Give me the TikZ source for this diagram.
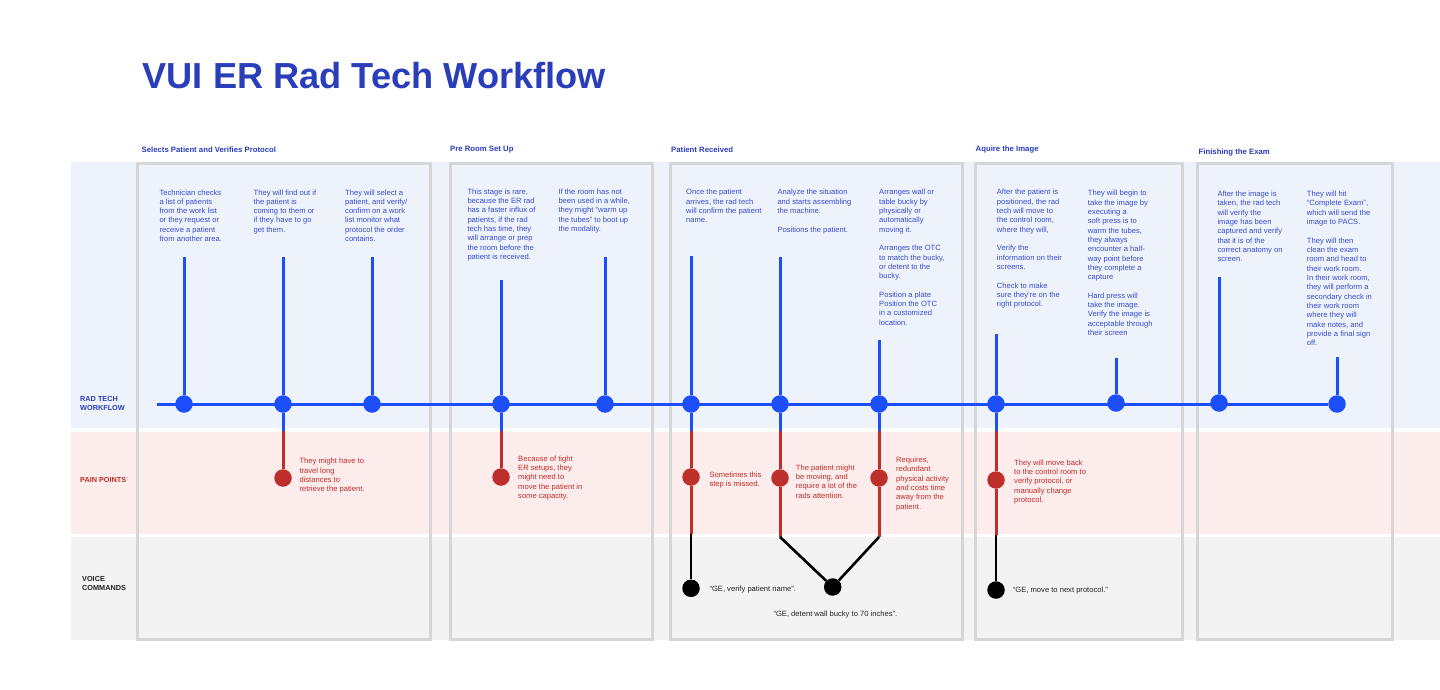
\documentclass[tikz,border=0pt]{standalone}
\usepackage{fontspec}
\setmainfont{Liberation Sans}
\pgfdeclarelayer{back}
\pgfdeclarelayer{wires}
\pgfsetlayers{back,wires,main}

\definecolor{headblue}{RGB}{42,62,186}
\definecolor{txtblue}{RGB}{55,75,205}
\definecolor{flowblue}{RGB}{28,78,252}
\definecolor{painred}{RGB}{190,46,42}
\definecolor{bandblue}{RGB}{238,243,251}
\definecolor{bandpink}{RGB}{252,236,236}
\definecolor{bandgray}{RGB}{243,243,243}
\definecolor{framegray}{RGB}{214,214,214}
\definecolor{voiceink}{RGB}{35,35,35}

\tikzset{
  bdot/.style={circle, fill=flowblue, minimum size=17.5pt, inner sep=0},
  rdot/.style={circle, fill=painred, minimum size=17.5pt, inner sep=0},
  kdot/.style={circle, fill=black, minimum size=17.5pt, inner sep=0},
  bwire/.style={draw=flowblue, line width=3pt},
  rwire/.style={draw=painred, line width=3pt},
  kwire/.style={draw=black, line width=2.6pt},
  note/.style={anchor=north west, inner sep=0, align=left,
    font=\fontsize{7.6}{9.33}\selectfont, text=txtblue},
  painnote/.style={note, text=painred},
  voicenote/.style={anchor=west, inner sep=0,
    font=\fontsize{7.6}{9.33}\selectfont, text=voiceink},
  stagehead/.style={anchor=west, inner sep=0,
    font=\bfseries\fontsize{7.75}{9}\selectfont, text=headblue},
  rowlabel/.style={anchor=north west, inner sep=0, align=left,
    font=\bfseries\fontsize{7.3}{9}\selectfont},
  stagebox/.style={draw=framegray, line width=3pt},
}

\begin{document}
\begin{tikzpicture}[x=1pt,y=-1pt]
\useasboundingbox (0,0) rectangle (1440,690);

% ---------- background bands and stage frames ----------
\begin{pgfonlayer}{back}
  \fill[white] (0,0) rectangle (1440,690);
  \fill[bandblue] (71,162) rectangle (1440,428);
  \fill[bandpink] (71,432) rectangle (1440,534);
  \fill[bandgray] (71,537) rectangle (1440,640);
  \draw[stagebox] (137,163.5) rectangle (430,639);
  \draw[stagebox] (450,163.5) rectangle (652,639);
  \draw[stagebox] (670,163.5) rectangle (962,639);
  \draw[stagebox] (975,163.5) rectangle (1182,639);
  \draw[stagebox] (1197,163.5) rectangle (1392,639);
\end{pgfonlayer}

% ---------- title and headings ----------
\node[anchor=base west, inner sep=0, font=\bfseries\fontsize{36.2}{40}\selectfont, text=headblue]
  (title) at (142.5,88.3) {VUI ER Rad Tech Workflow};

\node[stagehead] (h1) at (141.5,150) {Selects Patient and Verifies Protocol};
\node[stagehead] (h2) at (450,149.5) {Pre Room Set Up};
\node[stagehead] (h3) at (671,150) {Patient Received};
\node[stagehead] (h4) at (975.5,150) {Aquire the Image};
\node[stagehead] (h5) at (1198.5,152.7) {Finishing the Exam};

\node[rowlabel, text=headblue] (lw) at (80,396.6) {RAD TECH\\WORKFLOW};
\node[rowlabel, text=painred, anchor=west] (lp) at (80,480) {PAIN POINTS};
\node[rowlabel, text=voiceink] (lv) at (82,576.6) {VOICE\\COMMANDS};

% ---------- workflow steps ----------
\node[note] (n1) at (159.3,189.3) {Technician checks\\a list of patients\\from the work list\\or they request or\\receive a patient\\from another area.};
\node[note] (n2) at (253.5,189.3) {They will find out if\\the patient is\\coming to them or\\if they have to go\\get them.};
\node[note] (n3) at (345,189.3) {They will select a\\patient, and verify/\\confirm on a work\\list monitor what\\protocol the order\\contains.};

\node[note] (n4) at (467.3,188.5) {This stage is rare,\\because the ER rad\\has a faster influx of\\patients, if the rad\\tech has time, they\\will arrange or prep\\the room before the\\patient is received.};
\node[note] (n5) at (558.3,188.5) {If the room has not\\been used in a while,\\they might “warm up\\the tubes” to boot up\\the modality.};

\node[note] (n6) at (686,189) {Once the patient\\arrives, the rad tech\\will confirm the patient\\name.};
\node[note] (n7) at (777.3,189) {Analyze the situation\\and starts assembling\\the machine.\\[9.33pt]Positions the patient.};
\node[note] (n8) at (879,189) {Arranges wall or\\table bucky by\\physically or\\automatically\\moving it.\\[9.33pt]Arranges the OTC\\to match the bucky,\\or detent to the\\bucky.\\[9.33pt]Position a plate\\Position the OTC\\in a customized\\location.};

\node[note] (n9) at (996.7,189) {After the patient is\\positioned, the rad\\tech will move to\\the control room,\\where they will,\\[9.33pt]Verify the\\information on their\\screens.\\[9.33pt]Check to make\\sure they’re on the\\right protocol.};
\node[note] (n10) at (1087.7,190) {They will begin to\\take the image by\\executing a\\soft press is to\\warm the tubes,\\they always\\encounter a half-\\way point before\\they complete a\\capture\\[9.33pt]Hard press will\\take the image.\\Verify the image is\\acceptable through\\their screen};

\node[note] (n11) at (1217.3,190.7) {After the image is\\taken, the rad tech\\will verify the\\image has been\\captured and verify\\that it is of the\\correct anatomy on\\screen.};
\node[note] (n12) at (1306.7,190.7) {They will hit\\“Complete Exam”,\\which will send the\\image to PACS.\\[9.33pt]They will then\\clean the exam\\room and head to\\their work room.\\In their work room,\\they will perform a\\secondary check in\\their work room\\where they will\\make notes, and\\provide a final sign\\off.};

% ---------- pain points ----------
\node[painnote] (q1) at (299.3,458) {They might have to\\travel long\\distances to\\retrieve the patient.};
\node[painnote] (q2) at (518,455.5) {Because of tight\\ER setups, they\\might need to\\move the patient in\\some capacity.};
\node[painnote] (q3) at (709.3,471.7) {Sometimes this\\step is missed.};
\node[painnote] (q4) at (795.7,464.5) {The patient might\\be moving, and\\require a lot of the\\rads attention.};
\node[painnote] (q5) at (896,456.7) {Requires,\\redundant\\physical activity\\and costs time\\away from the\\patient.};
\node[painnote] (q6) at (1014,459.3) {They will move back\\to the control room to\\verify protocol, or\\manually change\\protocol.};

% ---------- voice commands ----------
\node[voicenote] (c1) at (709.3,590) {“GE, verify patient name”.};
\node[voicenote] (c2) at (773.3,614.3) {“GE, detent wall bucky to 70 inches”.};
\node[voicenote] (c3) at (1012.7,590.5) {“GE, move to next protocol.”};

% ---------- dots ----------
\node[bdot] (w1) at (184,404) {};
\node[bdot] (w2) at (283,404) {};
\node[bdot] (w3) at (372,404) {};
\node[bdot] (w4) at (501,404) {};
\node[bdot] (w5) at (605,404) {};
\node[bdot] (w6) at (691,404) {};
\node[bdot] (w7) at (780,404) {};
\node[bdot] (w8) at (879,404) {};
\node[bdot] (w9) at (996,404) {};
\node[bdot] (w10) at (1116,403) {};
\node[bdot] (w11) at (1219,403) {};
\node[bdot] (w12) at (1337,404) {};

\node[rdot] (p1) at (283,478) {};
\node[rdot] (p2) at (501,477) {};
\node[rdot] (p3) at (691,477) {};
\node[rdot] (p4) at (780,478) {};
\node[rdot] (p5) at (879,478) {};
\node[rdot] (p6) at (996,480) {};

\node[kdot] (v1) at (691,588.3) {};
\node[kdot] (v2) at (832.7,587) {};
\node[kdot] (v3) at (996,590) {};

% free ends of the connectors
\coordinate (t0) at (157,404);
\coordinate (s1) at (184,257);
\coordinate (s2) at (283,257);
\coordinate (s3) at (372,257);
\coordinate (s4) at (501,280);
\coordinate (s5) at (605,257);
\coordinate (s6) at (691,256);
\coordinate (s7) at (780,257);
\coordinate (s8) at (879,340);
\coordinate (s9) at (996,334);
\coordinate (s10) at (1116,358);
\coordinate (s11) at (1219,277);
\coordinate (s12) at (1337,357);

\coordinate (r2) at (283,431);
\coordinate (r4) at (501,431);
\coordinate (r6) at (691,431);
\coordinate (r7) at (780,431);
\coordinate (r8) at (879,431);
\coordinate (r9) at (996,431);

\coordinate (g6) at (691,534);
\coordinate (g7) at (780,537);
\coordinate (g8) at (879,537);
\coordinate (g9) at (996,535);

% ---------- connectors ----------
\begin{pgfonlayer}{wires}
  % the workflow line runs straight through every step to the last one
  \draw[bwire] (t0) -- (w12);
  \foreach \i in {1,...,12} {\draw[bwire] (s\i) -- (w\i);}
  \draw[bwire] (w2) -- (r2);
  \draw[bwire] (w4) -- (r4);
  \draw[bwire] (w6) -- (r6);
  \draw[bwire] (w7) -- (r7);
  \draw[bwire] (w8) -- (r8);
  \draw[bwire] (w9) -- (r9);
  \draw[rwire] (r2) -- (p1);
  \draw[rwire] (r4) -- (p2);
  \draw[rwire] (r6) -- (p3) -- (g6);
  \draw[rwire] (r7) -- (p4) -- (g7);
  \draw[rwire] (r8) -- (p5) -- (g8);
  \draw[rwire] (r9) -- (p6) -- (g9);
  \draw[kwire] (g6) -- (v1);
  \draw[kwire, line join=round] (g7) -- (v2);
  \draw[kwire, line join=round] (g8) -- (v2);
  \draw[kwire] (g9) -- (v3);
\end{pgfonlayer}
\end{tikzpicture}
\end{document}
